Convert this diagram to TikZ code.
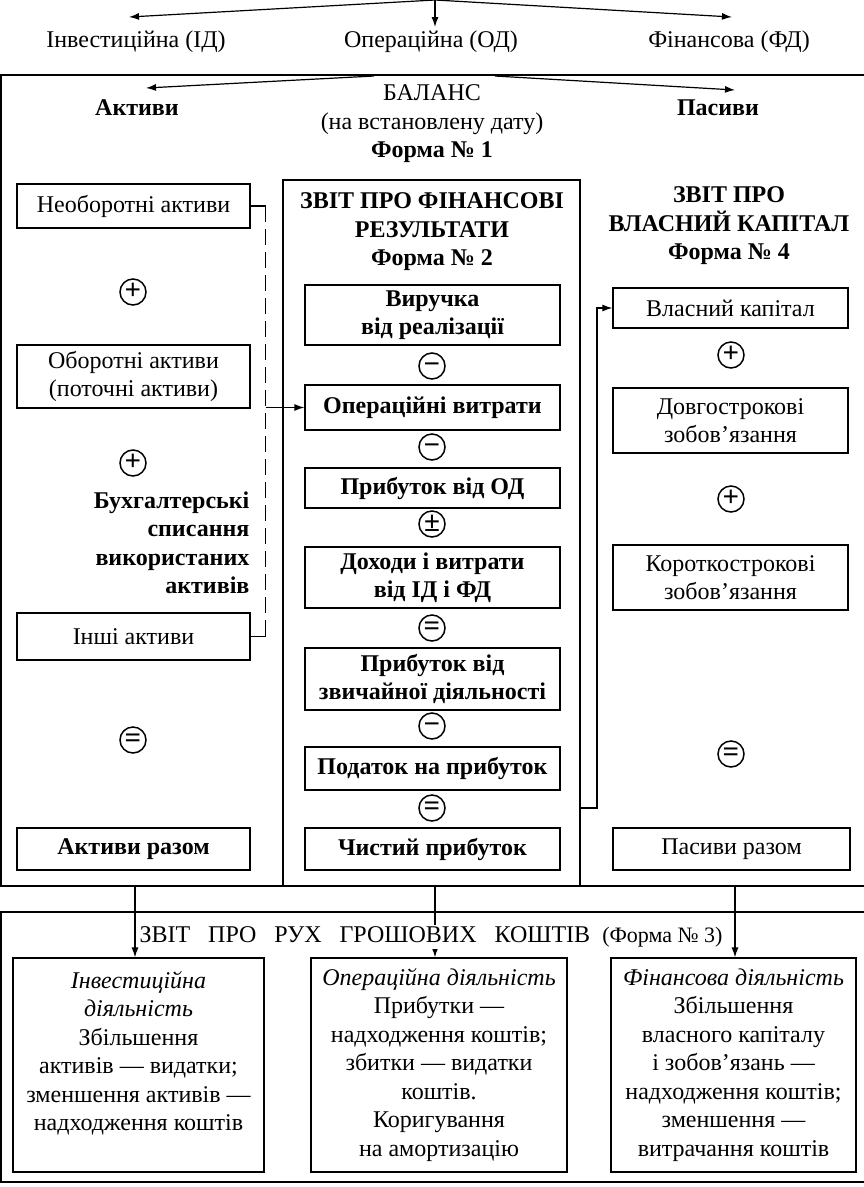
\documentclass[tikz,border=0pt]{standalone}
\usepackage{fontspec}
\setmainfont{Liberation Serif}
\usetikzlibrary{arrows.meta}
\newcommand\rmsize{\fontsize{24}{28.5}\selectfont}
\begin{document}
\begin{tikzpicture}[x=1pt,y=-1pt,line width=1.2pt]
\tikzstyle{every node}+=[inner sep=0pt, font=\rmsize]
\tikzstyle{heavy}=[font=\rmsize\bfseries]
\tikzstyle{item}=[draw, align=center]
\tikzstyle{mitem}=[item, heavy, minimum width=255pt]
\tikzstyle{litem}=[item, minimum width=233pt]
\tikzstyle{ritem}=[item, minimum width=235pt]
\tikzstyle{cf}=[item, minimum height=214pt]
\tikzstyle{ring}=[draw, circle, line width=1.5pt, minimum size=26pt]
\tikzstyle{op}=[anchor=base, yshift=-7.3pt, font=\fontsize{29}{29}\selectfont\bfseries]
\tikzstyle{arr}=[-{Latex[length=10pt,width=7pt]}]
\useasboundingbox (0,0) rectangle (863,1187);
% kinds of activity
\coordinate (src) at (435,0);
\node (id) at (136,42) {Інвестиційна (ІД)};
\node (od) at (431,42) {Операційна (ОД)};
\node (fd) at (729,42) {Фінансова (ФД)};
\coordinate (idtip) at (129,17);
\coordinate (odtip) at (435,27);
\coordinate (fdtip) at (732,17);
\draw [arr] (src) -- (idtip);
\draw [arr] (src) -- (odtip);
\draw [arr] (src) -- (fdtip);
% balance frame
\draw (864,75) -- (1,75) -- (1,886) -- (864,886);
\node [align=center] (bal) at (432,124) {БАЛАНС\\(на встановлену дату)\\\textbf{Форма № 1}};
\node [heavy] (akt) at (137,108) {Активи};
\node [heavy] (pas) at (718,108) {Пасиви};
\coordinate (bl) at (374,76);
\coordinate (br) at (495,76);
\coordinate (akttip) at (146,88);
\coordinate (pastip) at (735,90);
\draw [arr] (bl) -- (akttip);
\draw [arr] (br) -- (pastip);
% assets
\node [litem, minimum height=44pt] (na) at (133.5,206) {Необоротні активи};
\node [litem, minimum height=63pt] (oa) at (133.5,376.5) {Оборотні активи\\(поточні активи)};
\node [heavy, align=right, anchor=east] (bukh) at (250,543) {Бухгалтерські\\списання\\використаних\\активів};
\node [litem, minimum height=47pt] (ia) at (133.5,636.5) {Інші активи};
\node [litem, heavy, minimum height=42pt] (ar) at (133.5,849) {Активи разом};
\draw (na.east) -- ++(15,0) coordinate (d1);
\draw [dash pattern=on 16pt off 7pt] (d1) -- (d1 |- ia.east);
\draw (d1 |- ia.east) -- (ia.east);
% financial results
\node [draw, minimum width=297pt, minimum height=706pt] (frp) at (431.5,533) {};
\node [heavy, align=center] (frt) at (432,232) {ЗВІТ ПРО ФІНАНСОВІ\\РЕЗУЛЬТАТИ\\Форма № 2};
\node [mitem, minimum height=60pt] (rev) at (432.5,315) {Виручка\\від реалізації};
\node [mitem, minimum height=45pt] (opex) at (432.5,407.5) {Операційні витрати};
\node [mitem, minimum height=40pt] (opr) at (432.5,488) {Прибуток від ОД};
\node [mitem, minimum height=61pt] (dfd) at (432.5,577.5) {Доходи і витрати\\від ІД і ФД};
\node [mitem, minimum height=62pt] (pzd) at (432.5,679) {Прибуток від\\звичайної діяльності};
\node [mitem, minimum height=43pt] (tax) at (432.5,768.5) {Податок на прибуток};
\node [mitem, minimum height=42pt] (net) at (432.5,849) {Чистий прибуток};
\draw [arr] (d1 |- opex.west) -- (opex.west);
% equity and liabilities
\node [heavy, align=center] (vkt) at (729,226) {ЗВІТ ПРО\\ВЛАСНИЙ КАПІТАЛ\\Форма № 4};
\node [ritem, minimum height=40pt] (vk) at (730.5,308) {Власний капітал};
\node [ritem, minimum height=65pt] (dz) at (730.5,420.5) {Довгострокові\\зобов’язання};
\node [ritem, minimum height=65pt] (kz) at (730.5,577.5) {Короткострокові\\зобов’язання};
\node [ritem, minimum width=237pt, minimum height=42pt] (pr) at (731.5,849) {Пасиви разом};
\coordinate (nettap) at (580,808);
\draw [arr] (nettap) -- ++(17,0) |- (vk.west);
% signs between the items
\foreach \n/\x/\y/\s in {s1/133/292/+, s2/133/463/+, s3/133/740/=,
    s4/432/366/−, s5/432/447/−, s6/432/524/±, s7/432/628/=, s8/432/726/−, s9/432/808/=,
    s10/731/355/+, s11/731/499/+, s12/731/754/=} {
  \node [ring] (\n) at (\x,\y) {};
  \node [op] at (\n) {\s};
}
% cash flows
\draw (864,912) -- (1,912) -- (1,1182) -- (864,1182);
\node [cf, minimum width=251pt] (ib) at (138.5,1065) {\textit{Інвестиційна}\\\textit{діяльність}\\Збільшення\\активів — видатки;\\зменшення активів —\\надходження коштів\\\mbox{}};
\node [cf, minimum width=256pt] (ob) at (439,1065) {\textit{Операційна діяльність}\\Прибутки —\\надходження коштів;\\збитки — видатки\\коштів.\\Коригування\\на амортизацію};
\node [cf, minimum width=245pt] (fb) at (733.5,1065) {\textit{Фінансова діяльність}\\Збільшення\\власного капіталу\\і зобов’язань —\\надходження коштів;\\зменшення —\\витрачання коштів};
\coordinate (b1) at (135,886);
\coordinate (b2) at (435,886);
\coordinate (b3) at (735,886);
\draw [arr] (b1) -- (b1 |- ib.north);
\draw [arr] (b2) -- (b2 |- ob.north);
\draw [arr] (b3) -- (b3 |- fb.north);
\node [fill=white, inner ysep=2pt] (cft) at (431,937) {ЗВІТ\hspace{18pt}ПРО\hspace{18pt}РУХ\hspace{18pt}ГРОШОВИХ\hspace{18pt}КОШТІВ\hspace{12pt}{\fontsize{22}{24}\selectfont(Форма № 3)}};
\end{tikzpicture}
\end{document}
